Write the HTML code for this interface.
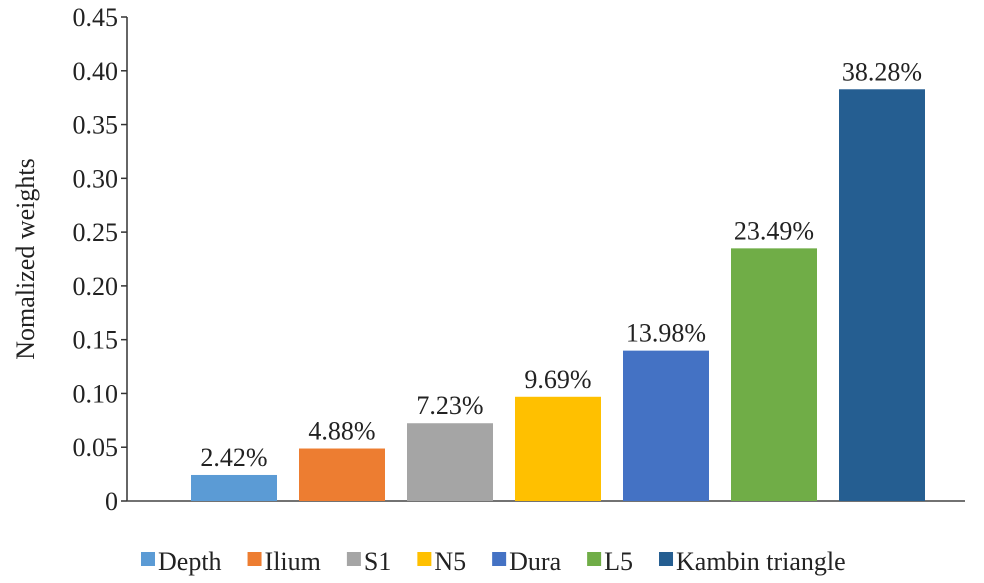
<!DOCTYPE html>
<html><head><meta charset="utf-8"><style>
body{margin:0;background:#fff;}
svg{display:block;font-family:"Liberation Serif",serif;}
</style></head><body>
<svg id="chart" width="984" height="583">
<text transform="translate(34,259) rotate(-90)" text-anchor="middle" font-size="26" fill="#222">Nomalized weights</text>
<g id="axes"></g><g id="bars"></g><g id="legend"></g>
</svg>
<script>
const categories=["Depth","Ilium","S1","N5","Dura","L5","Kambin triangle"];
const values=[0.0242,0.0488,0.0723,0.0969,0.1398,0.2349,0.3828];
const valueLabels=["2.42%","4.88%","7.23%","9.69%","13.98%","23.49%","38.28%"];
const colors=["#5b9bd5","#ed7d31","#a5a5a5","#ffc000","#4472c4","#70ad47","#255e91"];
const yTicks=[0,0.05,0.10,0.15,0.20,0.25,0.30,0.35,0.40,0.45];
const yTickLabels=["0","0.05","0.10","0.15","0.20","0.25","0.30","0.35","0.40","0.45"];
const NS="http://www.w3.org/2000/svg";
const x0=127,x1=965,y0=501,yTop=17,yMax=0.45;
const y=v=>y0-(v/yMax)*(y0-yTop);
const slot=108,firstCenter=234,bw=86;
const xc=i=>firstCenter+i*slot;
function mk(tag,attrs,parent){const e=document.createElementNS(NS,tag);for(const k in attrs)e.setAttribute(k,attrs[k]);parent.appendChild(e);return e;}
const axes=document.getElementById('axes'),bars=document.getElementById('bars'),legend=document.getElementById('legend');
let l=mk('line',{x1:x0,y1:yTop,x2:x0,y2:y0,stroke:'#333','stroke-width':1.5},axes);


l=mk('line',{x1:x0,y1:y0,x2:x1,y2:y0,stroke:'#444','stroke-width':1.5},axes);


yTicks.forEach((t,i)=>{
  const tk=mk('line',{x1:x0-6,y1:y(t),x2:x0,y2:y(t),stroke:'#333','stroke-width':1.5},axes);
  
  
  const tx=mk('text',{x:x0-9,y:y(t)+9,'text-anchor':'end','font-size':26,fill:'#222'},axes);
  tx.textContent=yTickLabels[i];
  
  
});
categories.forEach((c,i)=>{
  const r=mk('rect',{x:xc(i)-bw/2,y:y(values[i]),width:bw,height:y0-y(values[i]),fill:colors[i]},bars);
  
  
  const t=mk('text',{x:xc(i),y:y(values[i])-9,'text-anchor':'middle','font-size':26,fill:'#222'},bars);
  t.textContent=valueLabels[i];
  
  
});
let lx=141;
categories.forEach((c,i)=>{
  const s=mk('rect',{x:lx,y:552,width:14,height:14,fill:colors[i]},legend);
  
  
  const t=mk('text',{x:lx+17,y:570,'font-size':26,fill:'#222'},legend);
  t.textContent=c;
  
  
  lx+=17+t.getComputedTextLength()+26;
});
</script>
</body></html>
